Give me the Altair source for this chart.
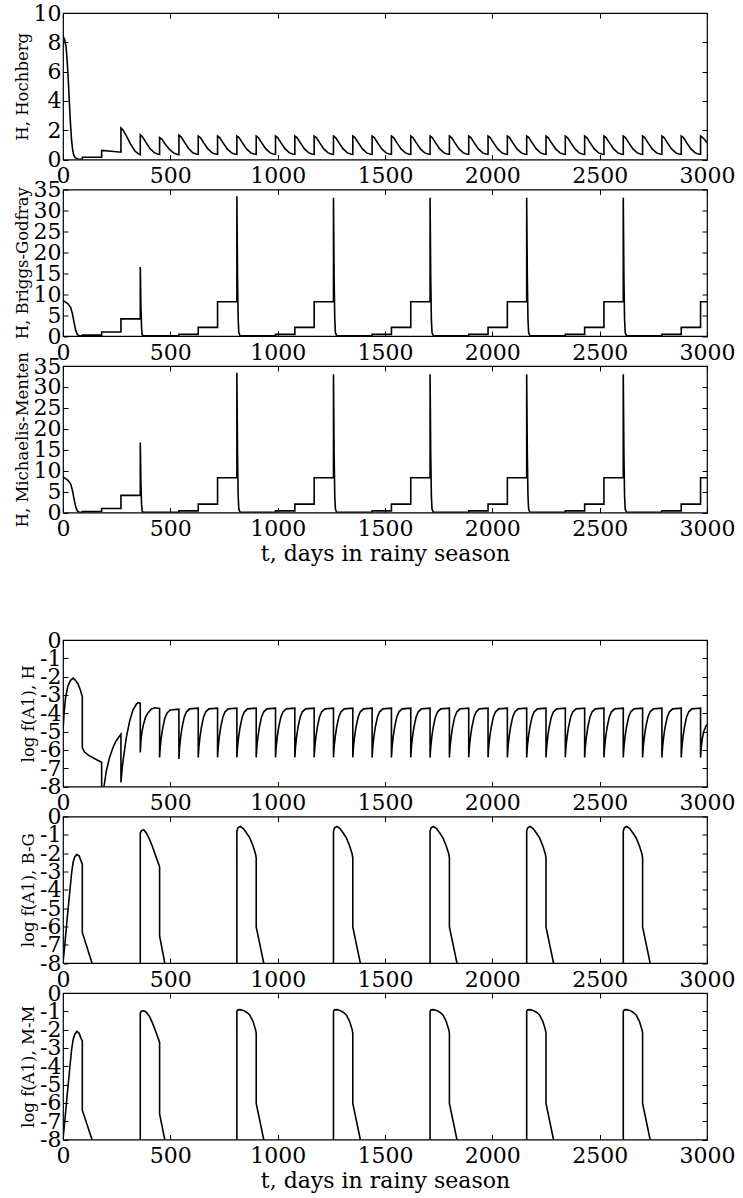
import altair as alt
import pandas as pd

FONT = "DejaVu Serif"
X_TICKS = [0, 500, 1000, 1500, 2000, 2500, 3000]
Y_TICKS_HOCH = [0, 2, 4, 6, 8, 10]
Y_TICKS_H = [0, 5, 10, 15, 20, 25, 30, 35]
Y_TICKS_LOG = [-8, -7, -6, -5, -4, -3, -2, -1, 0]

# ---------------- Panel 1: H, Hochberg ----------------
HOCH_T = [
    0, 8, 15, 20, 25, 30, 35, 40, 45, 50, 57, 70, 90,
    90, 180, 180, 225, 270,
    270, 280, 295, 315, 335, 350,
    360, 360, 370, 385, 405, 425, 440,
    450, 450, 460, 475, 495, 515, 530,
    540, 540, 550, 565, 585, 605, 620,
    630, 630, 640, 655, 675, 695, 710,
    720, 720, 730, 745, 765, 785, 800,
    810, 810, 820, 835, 855, 875, 890,
    900, 900, 910, 925, 945, 965, 980,
    990, 990, 1000, 1015, 1035, 1055, 1070,
    1080, 1080, 1090, 1105, 1125, 1145, 1160,
    1170, 1170, 1180, 1195, 1215, 1235, 1250,
    1260, 1260, 1270, 1285, 1305, 1325, 1340,
    1350, 1350, 1360, 1375, 1395, 1415, 1430,
    1440, 1440, 1450, 1465, 1485, 1505, 1520,
    1530, 1530, 1540, 1555, 1575, 1595, 1610,
    1620, 1620, 1630, 1645, 1665, 1685, 1700,
    1710, 1710, 1720, 1735, 1755, 1775, 1790,
    1800, 1800, 1810, 1825, 1845, 1865, 1880,
    1890, 1890, 1900, 1915, 1935, 1955, 1970,
    1980, 1980, 1990, 2005, 2025, 2045, 2060,
    2070, 2070, 2080, 2095, 2115, 2135, 2150,
    2160, 2160, 2170, 2185, 2205, 2225, 2240,
    2250, 2250, 2260, 2275, 2295, 2315, 2330,
    2340, 2340, 2350, 2365, 2385, 2405, 2420,
    2430, 2430, 2440, 2455, 2475, 2495, 2510,
    2520, 2520, 2530, 2545, 2565, 2585, 2600,
    2610, 2610, 2620, 2635, 2655, 2675, 2690,
    2700, 2700, 2710, 2725, 2745, 2765, 2780,
    2790, 2790, 2800, 2815, 2835, 2855, 2870,
    2880, 2880, 2890, 2905, 2925, 2945, 2960,
    2970, 2970, 2980, 2995, 3000,
]
HOCH_V = [
    8.4, 8.2, 7.6, 6.6, 5.3, 3.8, 2.4, 1.3, 0.65, 0.3, 0.12, 0.03, 0.0,
    0.15, 0.15, 0.62, 0.56, 0.5,
    2.15, 2.0, 1.62, 1.05, 0.58, 0.4,
    0.33, 1.68, 1.55, 1.2, 0.75, 0.47, 0.37,
    0.34, 1.5, 1.4, 1.08, 0.7, 0.45, 0.36,
    0.33, 1.66, 1.55, 1.2, 0.75, 0.46, 0.38,
    0.36, 1.6, 1.5, 1.15, 0.72, 0.45, 0.38,  # 630
    0.36, 1.6, 1.5, 1.15, 0.72, 0.45, 0.38,  # 720
    0.36, 1.6, 1.5, 1.15, 0.72, 0.45, 0.38,  # 810
    0.36, 1.6, 1.5, 1.15, 0.72, 0.45, 0.38,  # 900
    0.36, 1.6, 1.5, 1.15, 0.72, 0.45, 0.38,  # 990
    0.36, 1.6, 1.5, 1.15, 0.72, 0.45, 0.38,  # 1080
    0.36, 1.6, 1.5, 1.15, 0.72, 0.45, 0.38,  # 1170
    0.36, 1.6, 1.5, 1.15, 0.72, 0.45, 0.38,  # 1260
    0.36, 1.6, 1.5, 1.15, 0.72, 0.45, 0.38,  # 1350
    0.36, 1.6, 1.5, 1.15, 0.72, 0.45, 0.38,  # 1440
    0.36, 1.6, 1.5, 1.15, 0.72, 0.45, 0.38,  # 1530
    0.36, 1.6, 1.5, 1.15, 0.72, 0.45, 0.38,  # 1620
    0.36, 1.6, 1.5, 1.15, 0.72, 0.45, 0.38,  # 1710
    0.36, 1.6, 1.5, 1.15, 0.72, 0.45, 0.38,  # 1800
    0.36, 1.6, 1.5, 1.15, 0.72, 0.45, 0.38,  # 1890
    0.36, 1.6, 1.5, 1.15, 0.72, 0.45, 0.38,  # 1980
    0.36, 1.6, 1.5, 1.15, 0.72, 0.45, 0.38,  # 2070
    0.36, 1.6, 1.5, 1.15, 0.72, 0.45, 0.38,  # 2160
    0.36, 1.6, 1.5, 1.15, 0.72, 0.45, 0.38,  # 2250
    0.36, 1.6, 1.5, 1.15, 0.72, 0.45, 0.38,  # 2340
    0.36, 1.6, 1.5, 1.15, 0.72, 0.45, 0.38,  # 2430
    0.36, 1.6, 1.5, 1.15, 0.72, 0.45, 0.38,  # 2520
    0.36, 1.6, 1.5, 1.15, 0.72, 0.45, 0.38,  # 2610
    0.36, 1.6, 1.5, 1.15, 0.72, 0.45, 0.38,  # 2700
    0.36, 1.6, 1.5, 1.15, 0.72, 0.45, 0.38,  # 2790
    0.36, 1.6, 1.5, 1.15, 0.72, 0.45, 0.38,  # 2880
    0.36, 1.6, 1.5, 1.25, 1.15,
]

# ---------------- Panels 2 & 3: H, Briggs-Godfray / H, Michaelis-Menten ----------------
BG_T = [
    0, 8, 23, 36, 44, 51, 59, 67, 78, 90,
    90, 180, 180, 270, 270, 360,
    360, 363, 366, 369, 375,
    540, 540, 630, 630, 720, 720, 810,
    810, 813, 816, 819, 825,
    990, 990, 1080, 1080, 1170, 1170, 1260,
    1260, 1263, 1266, 1269, 1275,
    1440, 1440, 1530, 1530, 1620, 1620, 1710,
    1710, 1713, 1716, 1719, 1725,
    1890, 1890, 1980, 1980, 2070, 2070, 2160,
    2160, 2163, 2166, 2169, 2175,
    2340, 2340, 2430, 2430, 2520, 2520, 2610,
    2610, 2613, 2616, 2619, 2625,
    2790, 2790, 2880, 2880, 2970, 2970, 3000,
]
BG_V = [
    8.3, 8.25, 7.7, 6.8, 5.3, 3.35, 1.36, 0.32, 0.03, 0.0,
    0.2, 0.2, 0.96, 0.96, 4.1, 4.1,
    16.5, 7.0, 2.0, 0.3, 0.02,
    0.02, 0.4, 0.4, 2.05, 2.05, 8.2, 8.2,
    33.4, 14.0, 4.0, 0.8, 0.05,
    0.05, 0.4, 0.4, 2.05, 2.05, 8.2, 8.2,
    33.0, 14.0, 4.0, 0.8, 0.05,
    0.05, 0.4, 0.4, 2.05, 2.05, 8.2, 8.2,
    33.0, 14.0, 4.0, 0.8, 0.05,
    0.05, 0.4, 0.4, 2.05, 2.05, 8.2, 8.2,
    33.0, 14.0, 4.0, 0.8, 0.05,
    0.05, 0.4, 0.4, 2.05, 2.05, 8.2, 8.2,
    33.0, 14.0, 4.0, 0.8, 0.05,
    0.05, 0.4, 0.4, 2.05, 2.05, 8.2, 8.2,
]
MM_T = list(BG_T)
MM_V = [
    8.3, 8.25, 7.7, 6.8, 5.3, 3.35, 1.36, 0.32, 0.03, 0.0,
    0.2, 0.2, 0.96, 0.96, 4.1, 4.1,
    16.7, 7.0, 2.0, 0.3, 0.02,
    0.02, 0.4, 0.4, 2.0, 2.0, 8.3, 8.3,
    33.4, 14.0, 4.0, 0.8, 0.05,
    0.05, 0.4, 0.4, 2.0, 2.0, 8.3, 8.3,
    33.0, 14.0, 4.0, 0.8, 0.05,
    0.05, 0.4, 0.4, 2.0, 2.0, 8.3, 8.3,
    33.0, 14.0, 4.0, 0.8, 0.05,
    0.05, 0.4, 0.4, 2.0, 2.0, 8.3, 8.3,
    33.0, 14.0, 4.0, 0.8, 0.05,
    0.05, 0.4, 0.4, 2.0, 2.0, 8.3, 8.3,
    33.0, 14.0, 4.0, 0.8, 0.05,
    0.05, 0.4, 0.4, 2.0, 2.0, 8.3, 8.3,
]

# ---------------- Panel 4: log f(A1), H ----------------
LH_T = [
    0, 5, 12, 23, 36, 47, 57, 70, 82, 90,
    90, 100, 120, 150, 180,
    180, 191, 202, 217, 233, 248, 270,
    270, 276, 284, 295, 311, 326, 342, 350, 360,
    360, 363, 368, 375, 385, 396, 411, 427, 450,
    450, 453, 458, 465, 475, 485, 500, 540,
    540, 543, 548, 555, 565, 575, 590, 630,
    630, 633, 638, 645, 655, 665, 680, 720,
    720, 723, 728, 735, 745, 755, 770, 810,
    810, 813, 818, 825, 835, 845, 860, 900,
    900, 903, 908, 915, 925, 935, 950, 990,
    990, 993, 998, 1005, 1015, 1025, 1040, 1080,
    1080, 1083, 1088, 1095, 1105, 1115, 1130, 1170,
    1170, 1173, 1178, 1185, 1195, 1205, 1220, 1260,
    1260, 1263, 1268, 1275, 1285, 1295, 1310, 1350,
    1350, 1353, 1358, 1365, 1375, 1385, 1400, 1440,
    1440, 1443, 1448, 1455, 1465, 1475, 1490, 1530,
    1530, 1533, 1538, 1545, 1555, 1565, 1580, 1620,
    1620, 1623, 1628, 1635, 1645, 1655, 1670, 1710,
    1710, 1713, 1718, 1725, 1735, 1745, 1760, 1800,
    1800, 1803, 1808, 1815, 1825, 1835, 1850, 1890,
    1890, 1893, 1898, 1905, 1915, 1925, 1940, 1980,
    1980, 1983, 1988, 1995, 2005, 2015, 2030, 2070,
    2070, 2073, 2078, 2085, 2095, 2105, 2120, 2160,
    2160, 2163, 2168, 2175, 2185, 2195, 2210, 2250,
    2250, 2253, 2258, 2265, 2275, 2285, 2300, 2340,
    2340, 2343, 2348, 2355, 2365, 2375, 2390, 2430,
    2430, 2433, 2438, 2445, 2455, 2465, 2480, 2520,
    2520, 2523, 2528, 2535, 2545, 2555, 2570, 2610,
    2610, 2613, 2618, 2625, 2635, 2645, 2660, 2700,
    2700, 2703, 2708, 2715, 2725, 2735, 2750, 2790,
    2790, 2793, 2798, 2805, 2815, 2825, 2840, 2880,
    2880, 2883, 2888, 2895, 2905, 2915, 2930, 2970,
    2970, 2973, 2978, 2985, 2995, 3000,
]
LH_V = [
    -4.95, -4.0, -3.13, -2.5, -2.19, -2.08, -2.19, -2.4, -2.77, -3.1,
    -5.87, -6.12, -6.3, -6.5, -6.68,
    -9.5, -8.0, -7.14, -6.41, -5.87, -5.5, -5.14,
    -7.78, -6.96, -6.23, -5.32, -4.4, -3.83, -3.5, -3.42, -3.46,
    -6.14, -5.5, -5.0, -4.6, -4.2, -3.98, -3.78, -3.7, -3.74,
    -6.41, -5.85, -5.3, -4.78, -4.25, -3.98, -3.82, -3.78,
    -6.5, -5.88, -5.3, -4.75, -4.2, -3.92, -3.76, -3.72,
    -6.41, -5.85, -5.3, -4.75, -4.2, -3.92, -3.76, -3.72,  # 630
    -6.41, -5.85, -5.3, -4.75, -4.2, -3.92, -3.76, -3.72,  # 720
    -6.41, -5.85, -5.3, -4.75, -4.2, -3.92, -3.76, -3.72,  # 810
    -6.41, -5.85, -5.3, -4.75, -4.2, -3.92, -3.76, -3.72,  # 900
    -6.41, -5.85, -5.3, -4.75, -4.2, -3.92, -3.76, -3.72,  # 990
    -6.41, -5.85, -5.3, -4.75, -4.2, -3.92, -3.76, -3.72,  # 1080
    -6.41, -5.85, -5.3, -4.75, -4.2, -3.92, -3.76, -3.72,  # 1170
    -6.41, -5.85, -5.3, -4.75, -4.2, -3.92, -3.76, -3.72,  # 1260
    -6.41, -5.85, -5.3, -4.75, -4.2, -3.92, -3.76, -3.72,  # 1350
    -6.41, -5.85, -5.3, -4.75, -4.2, -3.92, -3.76, -3.72,  # 1440
    -6.41, -5.85, -5.3, -4.75, -4.2, -3.92, -3.76, -3.72,  # 1530
    -6.41, -5.85, -5.3, -4.75, -4.2, -3.92, -3.76, -3.72,  # 1620
    -6.41, -5.85, -5.3, -4.75, -4.2, -3.92, -3.76, -3.72,  # 1710
    -6.41, -5.85, -5.3, -4.75, -4.2, -3.92, -3.76, -3.72,  # 1800
    -6.41, -5.85, -5.3, -4.75, -4.2, -3.92, -3.76, -3.72,  # 1890
    -6.41, -5.85, -5.3, -4.75, -4.2, -3.92, -3.76, -3.72,  # 1980
    -6.41, -5.85, -5.3, -4.75, -4.2, -3.92, -3.76, -3.72,  # 2070
    -6.41, -5.85, -5.3, -4.75, -4.2, -3.92, -3.76, -3.72,  # 2160
    -6.41, -5.85, -5.3, -4.75, -4.2, -3.92, -3.76, -3.72,  # 2250
    -6.41, -5.85, -5.3, -4.75, -4.2, -3.92, -3.76, -3.72,  # 2340
    -6.41, -5.85, -5.3, -4.75, -4.2, -3.92, -3.76, -3.72,  # 2430
    -6.41, -5.85, -5.3, -4.75, -4.2, -3.92, -3.76, -3.72,  # 2520
    -6.41, -5.85, -5.3, -4.75, -4.2, -3.92, -3.76, -3.72,  # 2610
    -6.41, -5.85, -5.3, -4.75, -4.2, -3.92, -3.76, -3.72,  # 2700
    -6.41, -5.85, -5.3, -4.75, -4.2, -3.92, -3.76, -3.72,  # 2790
    -6.41, -5.85, -5.3, -4.75, -4.2, -3.92, -3.76, -3.72,  # 2880
    -6.41, -5.9, -5.4, -5.0, -4.7, -4.6,
]

# ---------------- Panels 5 & 6: log f(A1), B-G / M-M ----------------
LOG_CYC_T = [
    0, 10, 20, 30, 40, 47, 55, 65, 75, 85, 90,
    90, 135, 145, 145, 360,
    360, 365, 376, 388, 404, 419, 435, 447, 450,
    450, 474, 480, 480, 810,
    810, 815, 826, 840, 855, 870, 885, 897, 900,
    900, 935, 945, 945, 1260,
    1260, 1265, 1276, 1290, 1305, 1320, 1335, 1347, 1350,
    1350, 1385, 1395, 1395, 1710,
    1710, 1715, 1726, 1740, 1755, 1770, 1785, 1797, 1800,
    1800, 1835, 1845, 1845, 2160,
    2160, 2165, 2176, 2190, 2205, 2220, 2235, 2247, 2250,
    2250, 2285, 2295, 2295, 2610,
    2610, 2615, 2626, 2640, 2655, 2670, 2685, 2697, 2700,
    2700, 2735, 2745, 2745, 3000,
]
LBG_V = [
    -8.0, -6.8, -5.5, -4.3, -3.1, -2.5, -2.2, -2.08, -2.15, -2.45, -2.6,
    -6.33, -8.0, -8.6, -9.5, -9.5,
    -0.9, -0.78, -0.72, -0.9, -1.27, -1.72, -2.26, -2.65, -2.75,
    -6.52, -8.0, -8.4, -9.5, -9.5,
    -0.8, -0.62, -0.54, -0.66, -0.9, -1.17, -1.6, -2.05, -2.26,
    -6.03, -8.0, -8.6, -9.5, -9.5,
    -0.8, -0.62, -0.54, -0.66, -0.9, -1.17, -1.6, -2.05, -2.26,
    -6.03, -8.0, -8.6, -9.5, -9.5,
    -0.8, -0.62, -0.54, -0.66, -0.9, -1.17, -1.6, -2.05, -2.26,
    -6.03, -8.0, -8.6, -9.5, -9.5,
    -0.8, -0.62, -0.54, -0.66, -0.9, -1.17, -1.6, -2.05, -2.26,
    -6.03, -8.0, -8.6, -9.5, -9.5,
    -0.8, -0.62, -0.54, -0.66, -0.9, -1.17, -1.6, -2.05, -2.26,
    -6.03, -8.0, -8.6, -9.5, -9.5,
]
LMM_V = [
    -8.0, -6.8, -5.5, -4.3, -3.1, -2.55, -2.25, -2.1, -2.2, -2.5, -2.6,
    -6.4, -8.0, -8.6, -9.5, -9.5,
    -1.1, -1.0, -0.97, -1.05, -1.3, -1.7, -2.2, -2.6, -2.7,
    -6.6, -8.0, -8.4, -9.5, -9.5,
    -1.0, -0.92, -0.91, -0.95, -1.05, -1.2, -1.55, -2.0, -2.19,
    -6.03, -8.0, -8.6, -9.5, -9.5,
    -1.0, -0.92, -0.91, -0.95, -1.05, -1.2, -1.55, -2.0, -2.19,
    -6.03, -8.0, -8.6, -9.5, -9.5,
    -1.0, -0.92, -0.91, -0.95, -1.05, -1.2, -1.55, -2.0, -2.19,
    -6.03, -8.0, -8.6, -9.5, -9.5,
    -1.0, -0.92, -0.91, -0.95, -1.05, -1.2, -1.55, -2.0, -2.19,
    -6.03, -8.0, -8.6, -9.5, -9.5,
    -1.0, -0.92, -0.91, -0.95, -1.05, -1.2, -1.55, -2.0, -2.19,
    -6.03, -8.0, -8.6, -9.5, -9.5,
]

X_TITLE = "t, days in rainy season"

W = 644
H = 146.5
TICK = 5
LABEL_SIZE = 22
YTITLE_SIZE = 16.5


def make_panel(t, v, ydom, yticks, ytitle, xtitle=None):
    n = min(len(t), len(v))
    df = pd.DataFrame({"t": t[:n], "v": v[:n], "i": list(range(n))})
    xs = alt.Scale(domain=[0, 3000], nice=False, zero=False)
    ys = alt.Scale(domain=ydom, nice=False, zero=False)
    tick_common = dict(offset=-TICK, tickSize=TICK, tickColor="black", tickWidth=1,
                       domain=False, grid=False)
    xaxis_kw = dict(orient="bottom", values=X_TICKS, labelFont=FONT, labelFontSize=LABEL_SIZE,
                    labelColor="black", labelPadding=6, labelFlush=False, labelOverlap=False,
                    labelExpr="'' + datum.value", **tick_common)
    if xtitle:
        xaxis = alt.Axis(title=xtitle, titleFont=FONT, titleFontSize=LABEL_SIZE,
                         titleFontWeight="normal", titleColor="black", titlePadding=4, **xaxis_kw)
    else:
        xaxis = alt.Axis(title=None, **xaxis_kw)
    yaxis = alt.Axis(orient="left", values=yticks, title=ytitle, titleFont=FONT,
                     titleFontSize=YTITLE_SIZE, titleFontWeight="normal", titleColor="black",
                     titlePadding=3, labelFont=FONT, labelFontSize=LABEL_SIZE, labelColor="black",
                     labelPadding=2, labelFlush=False, labelOverlap=False,
                     labelExpr="'' + datum.value", **tick_common)
    line = alt.Chart().mark_line(color="black", strokeWidth=1.6, clip=True).encode(
        x=alt.X("t:Q", scale=xs, axis=xaxis),
        y=alt.Y("v:Q", scale=ys, axis=yaxis),
        order=alt.Order("i:Q"),
    )
    mirror = alt.Chart().mark_line(opacity=0, clip=True).encode(
        x=alt.X("t:Q", scale=xs, axis=alt.Axis(orient="top", values=X_TICKS, labels=False,
                                                 title=None, **tick_common)),
        y=alt.Y("v:Q", scale=ys, axis=alt.Axis(orient="right", values=yticks, labels=False,
                                                 title=None, **tick_common)),
        order=alt.Order("i:Q"),
    )
    return (alt.layer(line, mirror, data=df)
            .resolve_axis(x="independent", y="independent")
            .properties(width=W, height=H))


p1 = make_panel(HOCH_T, HOCH_V, [0, 10], Y_TICKS_HOCH, "H, Hochberg")
p2 = make_panel(BG_T, BG_V, [0, 35], Y_TICKS_H, "H, Briggs-Godfray")
p3 = make_panel(MM_T, MM_V, [0, 35], Y_TICKS_H, "H, Michaelis-Menten", X_TITLE)
p4 = make_panel(LH_T, LH_V, [-8, 0], Y_TICKS_LOG, "log f(A1), H")
p5 = make_panel(LOG_CYC_T, LBG_V, [-8, 0], Y_TICKS_LOG, "log f(A1), B-G")
p6 = make_panel(LOG_CYC_T, LMM_V, [-8, 0], Y_TICKS_LOG, "log f(A1), M-M", X_TITLE)

spacer = alt.Chart(pd.DataFrame({"s": [0]})).mark_point(opacity=0).encode(
    x=alt.value(0), y=alt.value(0)
).properties(width=W, height=67.5, view=alt.ViewBackground(stroke="transparent"))

chart = alt.vconcat(p1, p2, p3, spacer, p4, p5, p6, spacing=29.5, bounds="flush").properties(
    padding={"left": 13, "top": 1, "right": 2, "bottom": 2},
    background="white",
).configure_view(stroke="black", strokeWidth=1.2)

chart.save("out.html", embed_options={"renderer": "svg", "actions": False})
